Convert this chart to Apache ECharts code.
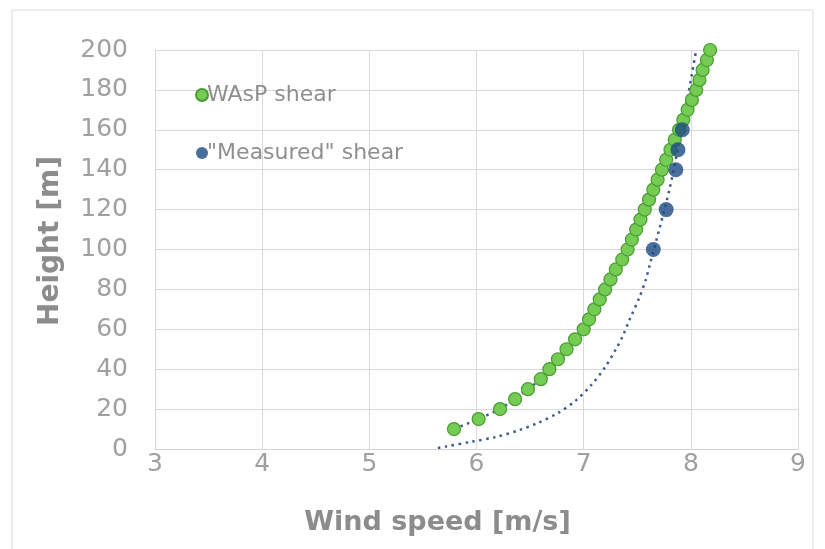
<!DOCTYPE html>
<html>
<head>
<meta charset="utf-8">
<script src="https://cdn.jsdelivr.net/npm/echarts@6/dist/echarts.min.js"></script>
<style>
  html, body { margin: 0; padding: 0; background: #fff; }
  #main { width: 825px; height: 549px; }
</style>
</head>
<body>
<div id="main"></div>
<script>
// WAsP shear (every 5 m)
const waspHeight = [10, 15, 20, 25, 30, 35, 40, 45, 50, 55, 60, 65, 70, 75, 80, 85, 90, 95, 100,
    105, 110, 115, 120, 125, 130, 135, 140, 145, 150, 155, 160, 165, 170, 175, 180, 185, 190, 195, 200];
const waspSpeed = [5.79, 6.02, 6.22, 6.36, 6.48, 6.60, 6.68, 6.76, 6.84, 6.92, 7.00, 7.05, 7.10, 7.15, 7.20, 7.25, 7.30, 7.36, 7.41,
    7.45, 7.49, 7.53, 7.57, 7.61, 7.65, 7.69, 7.73, 7.77, 7.81, 7.85, 7.89, 7.93, 7.97, 8.01, 8.05, 8.08, 8.11, 8.15, 8.18];

// "Measured" shear
const measHeight = [100, 120, 140, 150, 160];
const measSpeed = [7.65, 7.77, 7.86, 7.88, 7.92];

// dotted trend line through the measured points
const trendHeight = [0.5, 1.2, 3.7, 6, 9.5, 13, 18, 24, 32, 41, 50, 56, 65, 76, 85, 93, 111, 130, 148, 165, 173, 200];
const trendSpeed = [5.64, 5.71, 5.96, 6.18, 6.40, 6.57, 6.76, 6.92, 7.07, 7.20, 7.30, 7.36, 7.43, 7.52, 7.58, 7.62, 7.71, 7.80, 7.87, 7.93, 7.96, 8.05];

const xTicks = [3, 4, 5, 6, 7, 8, 9];
const yTicks = [0, 20, 40, 60, 80, 100, 120, 140, 160, 180, 200];

function pairs(xs, ys) {
    let out = [];
    for (let i = 0; i < xs.length; i++) {
        out.push([xs[i], ys[i]]);
    }
    return out;
}

var chartDom = document.getElementById('main');
var myChart = echarts.init(chartDom);
var option;

const dotted = { color: '#3b5c8c', width: 2.5, type: [2.5, 4.5] };
const grey = '#8c8c8c';

option = {
    animation: false,
    backgroundColor: '#fff',
    graphic: [{
        type: 'rect',
        shape: { x: 12, y: 10, width: 801, height: 560 },
        style: { fill: 'none', stroke: '#dcdcdc', lineWidth: 1 },
        silent: true
    }],
    grid: { left: 155, right: 27, top: 50, bottom: 100 },
    legend: {
        orient: 'vertical',
        left: 190,
        top: 79,
        itemGap: 36,
        itemWidth: 12,
        itemHeight: 12,
        icon: 'circle',
        data: ['WAsP shear', '"Measured" shear'],
        textStyle: { color: '#8f8f8f', fontSize: 22, fontFamily: 'DejaVu Sans', padding: [0, 0, 0, -6] }
    },
    xAxis: {
        type: 'value',
        min: xTicks[0],
        max: xTicks[xTicks.length - 1],
        interval: 1,
        name: 'Wind speed [m/s]',
        nameLocation: 'middle',
        nameGap: 60,
        nameTextStyle: { color: grey, fontSize: 27, fontWeight: 'bold', fontFamily: 'DejaVu Sans', padding: [0, 78, 0, 0] },
        axisLine: { lineStyle: { color: '#d4d4d4' } },
        axisTick: { show: false },
        axisLabel: { color: '#a0a0a0', fontSize: 25, margin: 3, fontFamily: 'DejaVu Sans' },
        splitLine: { lineStyle: { color: '#d9d9d9' } }
    },
    yAxis: {
        type: 'value',
        min: yTicks[0],
        max: yTicks[yTicks.length - 1],
        interval: 20,
        name: 'Height [m]',
        nameLocation: 'middle',
        nameGap: 90,
        nameTextStyle: { color: grey, fontSize: 28, fontWeight: 'bold', fontFamily: 'DejaVu Sans', padding: [0, 0, 0, 17] },
        axisLine: { show: true, lineStyle: { color: '#d4d4d4' } },
        axisTick: { show: false },
        axisLabel: { color: '#a0a0a0', fontSize: 25, margin: 27, fontFamily: 'DejaVu Sans' },
        splitLine: { lineStyle: { color: '#d9d9d9' } }
    },
    series: [
        {
            name: 'trend',
            type: 'line',
            smooth: 0.3,
            showSymbol: false,
            symbol: 'none',
            data: pairs(trendSpeed, trendHeight),
            lineStyle: dotted,
            z: 2
        },
        {
            name: 'WAsP shear',
            type: 'line',
            data: pairs(waspSpeed, waspHeight),
            symbol: 'circle',
            symbolSize: 13,
            itemStyle: { color: '#74cc52', borderColor: '#4a9a35', borderWidth: 1.2 },
            lineStyle: dotted,
            z: 3
        },
        {
            name: '"Measured" shear',
            type: 'scatter',
            data: pairs(measSpeed, measHeight),
            symbol: 'circle',
            symbolSize: 15,
            itemStyle: { color: '#1b4a82' },
            z: 4
        }
    ]
};

option && myChart.setOption(option);
</script>
</body>
</html>
